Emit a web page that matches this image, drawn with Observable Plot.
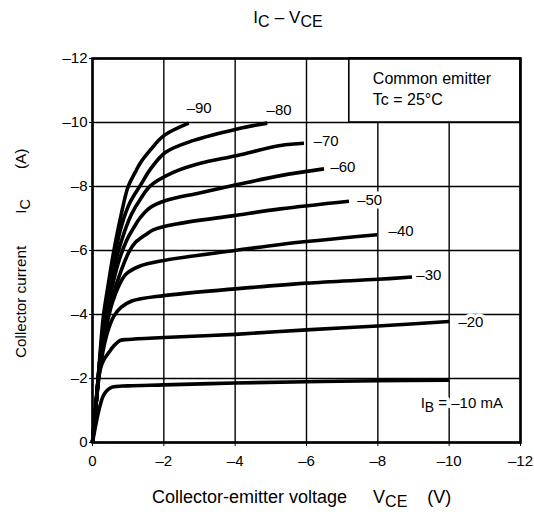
<!DOCTYPE html>
<html>
<head>
<meta charset="utf-8">
<script src="https://cdn.jsdelivr.net/npm/d3@7"></script>
<script src="https://cdn.jsdelivr.net/npm/@observablehq/plot@0.6"></script>
<style>
  body { margin: 0; background: #fff; font-family: "Liberation Sans", Arial, sans-serif; color: #000; }
  #title { height: 45px; box-sizing: border-box; padding-top: 9px; line-height: 18px; font-size: 17px; text-align: center; position: relative; left: 21px; width: 534px; white-space: nowrap; }
  #title .sub { font-size: 16px; position: relative; top: 4px; }
  #title .dash { padding: 0 5px; }
  #chart svg { display: block; }
</style>
</head>
<body>
<div id="title">I<span class="sub">C</span><span class="dash">–</span>V<span class="sub">CE</span></div>
<div id="chart"></div>
<script>
// Base current levels (mA)
const ibLevels = [-10, -20, -30, -40, -50, -60, -70, -80, -90];

// Collector current curves: [VCE (V), IC (A)]
const ib10 = [[0,0],[-0.1,-0.6],[-0.2,-1.1],[-0.3,-1.45],[-0.4,-1.62],[-0.55,-1.73],[-1,-1.77],[-2,-1.8],[-4,-1.86],[-6,-1.9],[-8,-1.93],[-10,-1.95]];
const ib20 = [[0,0],[-0.08,-1.0],[-0.18,-2.1],[-0.3,-2.55],[-0.45,-2.8],[-0.6,-3.02],[-0.78,-3.19],[-1,-3.22],[-2,-3.28],[-4,-3.38],[-6,-3.52],[-8,-3.64],[-10,-3.78]];
const ib30 = [[0,0],[-0.1,-1.2],[-0.2,-2.2],[-0.32,-3.0],[-0.45,-3.55],[-0.6,-3.95],[-0.8,-4.22],[-1.1,-4.42],[-2,-4.59],[-4,-4.8],[-6,-4.98],[-8,-5.1],[-8.96,-5.17]];
const ib40 = [[0,0],[-0.1,-1.2],[-0.2,-2.3],[-0.37,-3.5],[-0.55,-4.35],[-0.74,-4.9],[-0.93,-5.25],[-1.3,-5.5],[-2,-5.69],[-4,-6.0],[-5.27,-6.19],[-7.98,-6.49]];
const ib50 = [[0,0],[-0.1,-1.2],[-0.2,-2.4],[-0.36,-3.6],[-0.55,-4.5],[-0.78,-5.3],[-1.02,-5.95],[-1.2,-6.25],[-1.5,-6.5],[-1.72,-6.65],[-2.37,-6.83],[-3.96,-7.09],[-5.27,-7.3],[-7.19,-7.54]];
const ib60 = [[0,0],[-0.1,-1.2],[-0.2,-2.5],[-0.35,-3.7],[-0.52,-4.7],[-0.72,-5.6],[-0.95,-6.3],[-1.15,-6.7],[-1.35,-7.04],[-1.63,-7.35],[-2.05,-7.56],[-3,-7.8],[-4.06,-8.06],[-5.27,-8.34],[-6.49,-8.55]];
const ib70 = [[0,0],[-0.1,-1.2],[-0.2,-2.5],[-0.33,-3.8],[-0.5,-4.9],[-0.68,-5.8],[-0.9,-6.6],[-1.1,-7.15],[-1.35,-7.62],[-1.63,-8.03],[-2.28,-8.45],[-3,-8.72],[-4.06,-8.97],[-5.27,-9.28],[-5.93,-9.35]];
const ib80 = [[0,0],[-0.1,-1.2],[-0.2,-2.5],[-0.32,-3.8],[-0.47,-4.9],[-0.63,-5.9],[-0.82,-6.8],[-1.05,-7.5],[-1.35,-8.05],[-1.63,-8.55],[-2.05,-9.07],[-2.84,-9.44],[-4.06,-9.8],[-4.9,-9.98]];
const ib90 = [[0,0],[-0.1,-1.2],[-0.2,-2.6],[-0.3,-3.9],[-0.45,-5.0],[-0.6,-6.0],[-0.8,-7.1],[-1.0,-8.0],[-1.2,-8.45],[-1.35,-8.75],[-1.63,-9.15],[-2,-9.59],[-2.7,-9.98]];

const curves = [ib10, ib20, ib30, ib40, ib50, ib60, ib70, ib80, ib90];

// Axis ticks
const xTicks = [0, -2, -4, -6, -8, -10, -12];
const yTicks = [0, -2, -4, -6, -8, -10, -12];

// Curve labels (anchor in data units)
const ibLabel = "IB = –10 mA";
const labelText = [ibLabel, "–20", "–30", "–40", "–50", "–60", "–70", "–80", "–90"];
const labelX = [-9.2, -10.26, -9.08, -8.3, -7.42, -6.67, -6.2, -4.88, -2.64];
const labelY = [-1.23, -3.76, -5.23, -6.59, -7.56, -8.6, -9.41, -10.38, -10.44];

// Conditions box
const boxLines = ["Common emitter", "Tc = 25°C"];
const boxLineY = [-11.37, -10.70];
const boxTextX = -7.86;
const boxExtent = {x1: -7.2, x2: -12, y1: -10, y2: -12};

const table = curves.flatMap((c, k) => c.map(([v, i]) => ({v, i, ib: ibLevels[k]})));
const labels = labelText.map((t, k) => ({t, x: labelX[k], y: labelY[k]}));
const legend = boxLines.map((t, k) => ({t, x: boxTextX, y: boxLineY[k]}));

const fmt = d => d === 0 ? "0" : "–" + Math.abs(d);
const FONT = "'Liberation Sans', Arial, sans-serif";

const plot = Plot.plot({
  width: 534,
  height: 470,
  marginTop: 13,
  marginBottom: 73,
  marginLeft: 92,
  marginRight: 14,
  style: {fontFamily: FONT, fontSize: "15px", color: "black", background: "white"},
  x: {domain: [0, -12]},
  y: {domain: [0, -12]},
  marks: [
    Plot.gridX(xTicks, {stroke: "black", strokeOpacity: 1, strokeWidth: 1.4}),
    Plot.gridY(yTicks, {stroke: "black", strokeOpacity: 1, strokeWidth: 1.4}),
    Plot.rect([boxExtent], {x1: "x1", x2: "x2", y1: "y1", y2: "y2", fill: "white", stroke: "black", strokeWidth: 1.6}),
    Plot.text(legend, {x: "x", y: "y", text: "t", textAnchor: "start", lineAnchor: "middle", fontSize: 16, fill: "black"}),
    Plot.line(table, {x: "v", y: "i", z: "ib", stroke: "black", strokeWidth: 3.6, curve: "catmull-rom", strokeLinecap: "butt"}),
    // white halo behind the labels, then the labels themselves
    Plot.text(labels, {x: "x", y: "y", text: "t", textAnchor: "start", lineAnchor: "middle", fontSize: 15, fill: "white", stroke: "white", strokeWidth: 7}),
    Plot.text(labels, {x: "x", y: "y", text: "t", textAnchor: "start", lineAnchor: "middle", fontSize: 15, fill: "black"}),
    Plot.frame({stroke: "black", strokeWidth: 2.6}),
    Plot.axisX(xTicks, {tickFormat: fmt, tickSize: 4, tickPadding: 9, fontSize: 15, label: null}),
    Plot.axisY(yTicks, {tickFormat: fmt, tickSize: 3, tickPadding: 2, fontSize: 15, label: null})
  ]
});

document.getElementById("chart").appendChild(plot);

const svg = d3.select(plot);
// Subscript for IB label (both halo and text copies)
svg.selectAll("text").filter(function() { return this.textContent === ibLabel; }).each(function() {
  const t = d3.select(this);
  t.text(null);
  t.append("tspan").text("I");
  t.append("tspan").attr("dy", 4).attr("font-size", 14).text("B");
  t.append("tspan").attr("dy", -4).text("\u00a0= –10 mA");
});

const xs = plot.scale("x"), ys = plot.scale("y");
const yMid = (ys.range[0] + ys.range[1]) / 2;

// X axis title
const xl = svg.append("text")
  .attr("x", 152).attr("y", ys.range[0] + 61)
  .attr("text-anchor", "start")
  .attr("font-family", FONT).attr("font-size", 18).attr("fill", "black");
xl.append("tspan").text("Collector-emitter voltage");
xl.append("tspan").attr("dx", 26).text("V");
xl.append("tspan").attr("dy", 4).attr("font-size", 16).text("CE");
xl.append("tspan").attr("dy", -4).attr("dx", 20).text("(V)");

// Y axis title
const yl = svg.append("text")
  .attr("transform", `translate(26,${ys.range[0] - 84}) rotate(-90)`)
  .attr("text-anchor", "start")
  .attr("font-family", FONT).attr("font-size", 15.3).attr("fill", "black");
yl.append("tspan").text("Collector current");
yl.append("tspan").attr("dx", 32).text("I");
yl.append("tspan").attr("dy", 4).attr("font-size", 14.5).text("C");
yl.append("tspan").attr("dy", -4).attr("dx", 30).text("(A)");
</script>
</body>
</html>
